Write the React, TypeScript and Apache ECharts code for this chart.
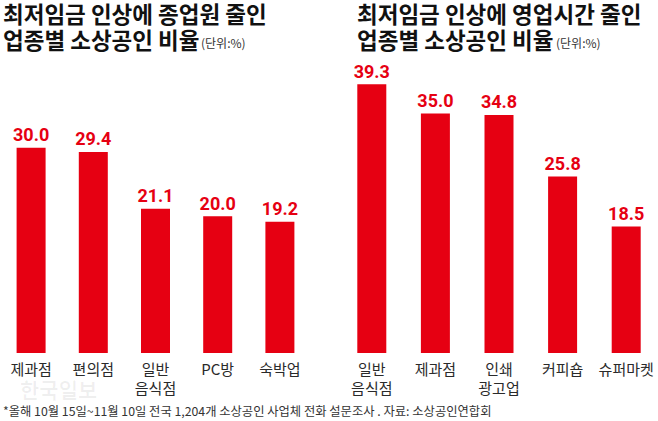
import React, { useEffect, useRef } from "react";
import * as echarts from "echarts";

const leftCategories = ["제과점", "편의점", "일반\n음식점", "PC방", "숙박업"];
const leftValues = [30.0, 29.4, 21.1, 20.0, 19.2];
const rightCategories = ["일반\n음식점", "제과점", "인쇄\n광고업", "커피숍", "슈퍼마켓"];
const rightValues = [39.3, 35.0, 34.8, 25.8, 18.5];
const leftTitle = ["최저임금 인상에 종업원 줄인", "업종별 소상공인 비율"];
const rightTitle = ["최저임금 인상에 영업시간 줄인", "업종별 소상공인 비율"];
const unitText = "(단위:%)";
const footnote = "*올해 10월 15일~11월 10일 전국 1,204개 소상공인 사업체 전화 설문조사 . 자료: 소상공인연합회";
const watermark = "한국일보";

const RED = "#e60012";
const KR = "'Noto Sans CJK KR', 'Noto Sans', sans-serif";

export default function App() {
  const ref = useRef<HTMLDivElement>(null);
  useEffect(() => {
    document.body.style.margin = "0";
    const chart = echarts.init(ref.current!, undefined, { renderer: "svg" });
    const axisLabel = {
      fontFamily: KR,
      fontSize: 15,
      color: "#2a2a2a",
      lineHeight: 19,
      margin: 6,
      interval: 0,
    };
    const barLabel = {
      show: true,
      position: "top" as const,
      distance: 4,
      color: RED,
      fontFamily: "'Liberation Sans Narrow', 'Roboto', sans-serif",
      fontWeight: "bold" as const,
      fontSize: 18,
      formatter: (p: any) => Number(p.value).toFixed(1),
    };
    const title = (x: number, y: number, text: string) => ({
      type: "text",
      x,
      y,
      style: {
        text,
        fontFamily: KR,
        fontSize: 22.5,
        fontWeight: "bold",
        fill: "#111",
        verticalAlign: "middle",
        lineHeight: 22,
      },
    });
    chart.setOption({
      animation: false,
      backgroundColor: "#ffffff",
      grid: [
        { left: -14, width: 325, top: 79.4, bottom: 68 },
        { left: 340, width: 325, top: 79.4, bottom: 68 },
      ],
      xAxis: [
        {
          type: "category",
          gridIndex: 0,
          data: leftCategories,
          axisLine: { show: false },
          axisTick: { show: false },
          axisLabel,
        },
        {
          type: "category",
          gridIndex: 1,
          data: rightCategories,
          axisLine: { show: false },
          axisTick: { show: false },
          axisLabel,
        },
      ],
      yAxis: [
        { type: "value", gridIndex: 0, min: 0, max: 40, show: false },
        { type: "value", gridIndex: 1, min: 0, max: 40, show: false },
      ],
      series: [
        {
          type: "bar",
          xAxisIndex: 0,
          yAxisIndex: 0,
          data: leftValues,
          barWidth: 29,
          itemStyle: { color: RED },
          label: barLabel,
        },
        {
          type: "bar",
          xAxisIndex: 1,
          yAxisIndex: 1,
          data: rightValues,
          barWidth: 29,
          itemStyle: { color: RED },
          label: barLabel,
        },
      ],
      graphic: [
        title(3, 13, leftTitle[0]),
        title(3, 39, leftTitle[1]),
        {
          type: "text",
          x: 201,
          y: 42,
          style: { text: unitText, fontFamily: KR, fontSize: 12, fill: "#333", verticalAlign: "middle" },
        },
        title(357, 13, rightTitle[0]),
        title(357, 39, rightTitle[1]),
        {
          type: "text",
          x: 556,
          y: 42,
          style: { text: unitText, fontFamily: KR, fontSize: 12, fill: "#333", verticalAlign: "middle" },
        },
        {
          type: "text",
          x: 20,
          y: 389,
          style: {
            text: watermark,
            fontFamily: KR,
            fontSize: 21,
            fontWeight: "bold",
            fill: "rgba(0,0,0,0.06)",
            verticalAlign: "middle",
          },
        },
        {
          type: "text",
          x: 3,
          y: 411,
          style: { text: footnote, fontFamily: KR, fontSize: 12.3, fill: "#333", verticalAlign: "middle" },
        },
      ],
    });
    return () => chart.dispose();
  }, []);
  return <div ref={ref} style={{ width: 658, height: 421 }} />;
}
